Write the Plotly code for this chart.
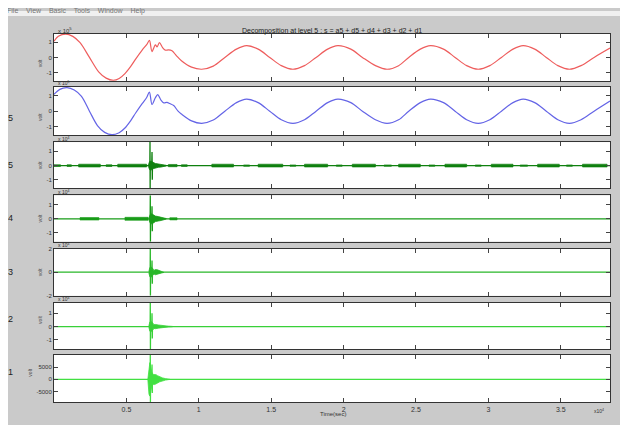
import plotly.graph_objects as go

# page body has an 8px margin, so the figure is sized to fill the rest of the 628x425 window
OFF = 8
FW, FH = 620, 417

# ---------------- data ----------------
x_max = 3.84
x_tickvals = [0.5, 1, 1.5, 2, 2.5, 3, 3.5]
x_ticktext = ["0.5", "1", "1.5", "2", "2.5", "3", "3.5"]

# s : original signal (x 10^5)
s_t = [0.00, 0.03, 0.08, 0.13, 0.18, 0.245, 0.31, 0.36, 0.41, 0.45, 0.49, 0.53, 0.565,
       0.61, 0.640, 0.659, 0.677, 0.700, 0.712, 0.728, 0.750, 0.769, 0.790, 0.815, 0.845,
       0.88, 0.95, 1.02, 1.10, 1.18, 1.26, 1.33, 1.41, 1.49, 1.57, 1.65, 1.73, 1.81, 1.89,
       1.96, 2.05, 2.13, 2.22, 2.30, 2.38, 2.45, 2.53, 2.60, 2.69, 2.77, 2.85, 2.93, 3.01,
       3.09, 3.17, 3.24, 3.32, 3.40, 3.48, 3.56, 3.64, 3.73, 3.84]
s_v = [1.08, 1.40, 1.55, 1.40, 0.98, 0.00, -0.98, -1.38, -1.52, -1.40, -1.08, -0.60, -0.10,
       0.50, 0.85, 1.13, 0.39, 0.83, 0.70, 0.98, 0.65, 0.48, 0.50, 0.44, 0.12,
       -0.22, -0.65, -0.79, -0.58, 0.00, 0.55, 0.78, 0.55, 0.00, -0.55, -0.79, -0.55, 0.00, 0.55,
       0.78, 0.55, 0.00, -0.55, -0.79, -0.55, 0.00, 0.55, 0.78, 0.55, 0.00, -0.55, -0.79, -0.55,
       0.00, 0.55, 0.78, 0.55, 0.00, -0.55, -0.79, -0.55, 0.00, 0.62]

# a5 : approximation at level 5 (x 10^5)
a5_t = [0.00, 0.04, 0.09, 0.14, 0.19, 0.245, 0.30, 0.35, 0.40, 0.45, 0.49, 0.53, 0.565,
        0.61, 0.640, 0.659, 0.677, 0.700, 0.716, 0.740, 0.758, 0.780, 0.800, 0.827, 0.857,
        0.88, 0.95, 1.02, 1.10, 1.18, 1.26, 1.33, 1.41, 1.49, 1.57, 1.65, 1.73, 1.81, 1.89,
        1.96, 2.05, 2.13, 2.22, 2.30, 2.38, 2.45, 2.53, 2.60, 2.69, 2.77, 2.85, 2.93, 3.01,
        3.09, 3.17, 3.24, 3.32, 3.40, 3.48, 3.56, 3.64, 3.73, 3.84]
a5_v = [1.08, 1.40, 1.51, 1.36, 0.95, 0.00, -0.92, -1.36, -1.51, -1.38, -1.08, -0.60, -0.10,
        0.50, 0.88, 1.23, 0.43, 0.86, 1.06, 0.69, 0.53, 0.57, 0.49, 0.36, 0.00,
        -0.18, -0.62, -0.78, -0.57, 0.00, 0.55, 0.78, 0.55, 0.00, -0.55, -0.78, -0.55, 0.00, 0.55,
        0.78, 0.55, 0.00, -0.55, -0.78, -0.55, 0.00, 0.55, 0.78, 0.55, 0.00, -0.55, -0.78, -0.55,
        0.00, 0.55, 0.78, 0.55, 0.00, -0.55, -0.78, -0.55, 0.00, 0.65]

# details: spike samples, burst envelope, and band segments
d5_spike_t = [0.0, 0.662, 0.663, 0.664, 0.665, 0.675, 0.677, 0.679, 0.680, 3.84]
d5_spike_v = [0.0, 0.0, 1.65, -1.60, 0.0, 0.0, 0.95, -1.0, 0.0, 0.0]
d5_env_t = [0.652, 0.660, 0.670, 0.680, 0.690, 0.700, 0.720, 0.740, 0.760, 0.775]
d5_env_a = [0.05, 0.28, 0.32, 0.24, 0.20, 0.15, 0.12, 0.10, 0.07, 0.02]
d5_seg_start = [0.00, 0.09, 0.17, 0.36, 0.44, 0.79, 0.88, 1.09, 1.31, 1.41, 1.63, 1.73, 1.95,
                2.06, 2.28, 2.38, 2.59, 2.70, 2.91, 3.02, 3.22, 3.34, 3.54, 3.65]
d5_seg_end = [0.045, 0.12, 0.32, 0.40, 0.64, 0.85, 0.92, 1.24, 1.35, 1.58, 1.67, 1.89, 1.99,
              2.22, 2.33, 2.53, 2.63, 2.85, 2.95, 3.17, 3.27, 3.49, 3.58, 3.82]
d5_seg_amp = [0.06, 0.06, 0.10, 0.06, 0.10, 0.08, 0.06, 0.10, 0.05, 0.10, 0.05, 0.10, 0.05,
              0.10, 0.05, 0.10, 0.05, 0.10, 0.05, 0.10, 0.05, 0.10, 0.05, 0.10]

d4_spike_t = [0.0, 0.664, 0.665, 0.666, 0.667, 0.675, 0.677, 0.679, 0.680, 3.84]
d4_spike_v = [0.0, 0.0, 1.70, -1.65, 0.0, 0.0, 0.90, -0.90, 0.0, 0.0]
d4_env_t = [0.655, 0.665, 0.675, 0.690, 0.700, 0.720, 0.740, 0.760, 0.775]
d4_env_a = [0.05, 0.32, 0.36, 0.28, 0.20, 0.16, 0.12, 0.08, 0.02]
d4_seg_start = [0.18, 0.49, 0.80]
d4_seg_end = [0.31, 0.65, 0.85]
d4_seg_amp = [0.09, 0.11, 0.08]

d3_spike_t = [0.0, 0.664, 0.665, 0.666, 0.667, 0.675, 0.677, 0.679, 0.680, 3.84]
d3_spike_v = [0.0, 0.0, 2.02, -2.02, 0.0, 0.0, 1.0, -1.0, 0.0, 0.0]
d3_env_t = [0.655, 0.662, 0.670, 0.680, 0.690, 0.700, 0.715, 0.730, 0.745, 0.760]
d3_env_a = [0.05, 0.40, 0.45, 0.35, 0.15, 0.22, 0.20, 0.12, 0.06, 0.02]

d2_spike_t = [0.0, 0.664, 0.665, 0.666, 0.667, 0.675, 0.677, 0.679, 0.680, 3.84]
d2_spike_v = [0.0, 0.0, 1.80, -1.70, 0.0, 0.0, 1.0, -0.9, 0.0, 0.0]
d2_env_t = [0.655, 0.662, 0.670, 0.680, 0.690, 0.700, 0.720, 0.740, 0.760, 0.790, 0.820]
d2_env_a = [0.05, 0.35, 0.38, 0.30, 0.14, 0.16, 0.12, 0.08, 0.05, 0.03, 0.01]

d1_spike_t = [0.0, 0.664, 0.665, 0.666, 0.667, 0.675, 0.677, 0.679, 0.680, 3.84]
d1_spike_v = [0.0, 0.0, 9900, -9300, 0.0, 0.0, 6000, -5500, 0.0, 0.0]
d1_env_t = [0.648, 0.652, 0.656, 0.662, 0.668, 0.675, 0.685, 0.695, 0.705, 0.715, 0.730,
            0.750, 0.770, 0.800]
d1_env_a = [0, 3000, 6000, 6800, 5000, 3000, 2000, 2100, 1900, 1500, 1000, 600, 300, 0]

row_names = ["s", "a5", "d5", "d4", "d3", "d2", "d1"]
exp_labels = ["5", "5", "4", "4", "4", "4", None]
y_tickvals = [[-1, 0, 1], [-1, 0, 1], [-1, 0, 1], [-1, 0, 1], [-2, 0, 2], [-1, 0, 1],
              [-5000, 0, 5000]]
y_ticktext = [["-1", "0", "1"], ["-1", "0", "1"], ["-1", "0", "1"], ["-1", "0", "1"],
              ["-2", "0", "2"], ["-1", "0", "1"], ["-5000", "0", "5000"]]

# ---------------- layout (window pixel positions) ----------------
panel_px = [(31, 79), (85, 134), (141, 188), (195, 242), (249, 297), (304, 351), (357, 405)]
y_ranges = [[-1.57, 1.58], [-1.54, 1.56], [-1.6, 1.65], [-1.65, 1.7], [-2.03, 2.03],
            [-1.7, 1.8], [-9300, 9900]]
X0, X1 = 54, 610
volt_x = [35, 35, 35, 35, 35, 35, 25]

FONT = "Liberation Sans, Arial, sans-serif"
GREY = "#cacaca"


def px_x(p):
    return (p - OFF) / FW


def px_y(p):
    return 1 - (p - OFF) / FH


def ax_names(i):
    return ("x" if i == 0 else f"x{i+1}", "y" if i == 0 else f"y{i+1}")


def band_polys(starts, ends, amps):
    xs, ys = [], []
    for a, b, h in zip(starts, ends, amps):
        xs += [a, b, b, a, a, None]
        ys += [h, h, -h, -h, h, None]
    return xs, ys


fig = go.Figure()

for i, (t, v, col) in enumerate([(s_t, s_v, "#ee5d5d"), (a5_t, a5_v, "#6464e6")]):
    xa, ya = ax_names(i)
    fig.add_trace(go.Scatter(x=t, y=v, mode="lines", xaxis=xa, yaxis=ya,
                             line=dict(color=col, width=1.2, shape="spline", smoothing=0.9),
                             showlegend=False, hoverinfo="skip"))

details = [
    (d5_spike_t, d5_spike_v, d5_env_t, d5_env_a, (d5_seg_start, d5_seg_end, d5_seg_amp), "#0f800f"),
    (d4_spike_t, d4_spike_v, d4_env_t, d4_env_a, (d4_seg_start, d4_seg_end, d4_seg_amp), "#189c18"),
    (d3_spike_t, d3_spike_v, d3_env_t, d3_env_a, None, "#2ab82a"),
    (d2_spike_t, d2_spike_v, d2_env_t, d2_env_a, None, "#38d038"),
    (d1_spike_t, d1_spike_v, d1_env_t, d1_env_a, None, "#42e042"),
]
for k, (st, sv, et, ea, segs, col) in enumerate(details):
    i = k + 2
    xa, ya = ax_names(i)
    if segs is not None:
        bx, by = band_polys(*segs)
        fig.add_trace(go.Scatter(x=bx, y=by, mode="lines", fill="toself", fillcolor=col,
                                 line=dict(color=col, width=0.6), xaxis=xa, yaxis=ya,
                                 showlegend=False, hoverinfo="skip"))
    ex = list(et) + list(et[::-1])
    ey = list(ea) + [-a for a in ea[::-1]]
    fig.add_trace(go.Scatter(x=ex, y=ey, mode="lines", fill="toself", fillcolor=col,
                             line=dict(color=col, width=0.8), xaxis=xa, yaxis=ya,
                             showlegend=False, hoverinfo="skip"))
    fig.add_trace(go.Scatter(x=st, y=sv, mode="lines", xaxis=xa, yaxis=ya,
                             line=dict(color=col, width=1.3),
                             showlegend=False, hoverinfo="skip"))

layout = dict(
    width=FW, height=FH, margin=dict(l=0, r=0, t=0, b=0),
    paper_bgcolor=GREY, plot_bgcolor="white", showlegend=False,
    font=dict(family=FONT, size=7, color="#333"),
)

annotations = []
for i, ((top, bot), yr) in enumerate(zip(panel_px, y_ranges)):
    xa, ya = ax_names(i)
    xkey = "xaxis" if i == 0 else f"xaxis{i+1}"
    ykey = "yaxis" if i == 0 else f"yaxis{i+1}"
    layout[xkey] = dict(domain=[px_x(X0), px_x(X1)], range=[0, x_max], anchor=ya,
                        tickvals=x_tickvals, ticktext=x_ticktext,
                        showticklabels=(i == 6), ticks="inside", ticklen=4, tickwidth=1,
                        tickcolor="#444", mirror="allticks", showline=True, linecolor="#333",
                        linewidth=1, showgrid=False, zeroline=False,
                        tickfont=dict(size=7, color="#333"))
    layout[ykey] = dict(domain=[px_y(bot), px_y(top)], range=yr, anchor=xa,
                        tickvals=y_tickvals[i], ticktext=y_ticktext[i],
                        ticks="inside", ticklen=4, tickwidth=1, tickcolor="#444",
                        mirror="allticks", showline=True, linecolor="#333", linewidth=1,
                        showgrid=False, zeroline=False, tickfont=dict(size=6, color="#333"))
    cy = px_y((top + bot) / 2)
    annotations.append(dict(x=px_x(volt_x[i]), y=cy, xref="paper", yref="paper", text="volt",
                            textangle=-90, showarrow=False, font=dict(size=5, color="#444")))
    # row label: left-aligned so its first letter falls outside the visible window
    annotations.append(dict(x=px_x(1), y=cy, xref="paper", yref="paper", xanchor="left",
                            text=row_names[i], showarrow=False,
                            font=dict(size=9, color="#222")))
    if exp_labels[i] is not None:
        annotations.append(dict(x=px_x(56), y=px_y(top - 3.5), xref="paper", yref="paper",
                                xanchor="left", yanchor="middle",
                                text="x 10<sup>" + exp_labels[i] + "</sup>", showarrow=False,
                                font=dict(size=5 if i > 0 else 6, color="#333")))

annotations += [
    dict(x=px_x(332), y=px_y(22), xref="paper", yref="paper", showarrow=False,
         text="Decomposition at level 5 : s = a5 + d5 + d4 + d3 + d2 + d1",
         font=dict(size=7, color="#222")),
    dict(x=px_x(333), y=px_y(421.5), xref="paper", yref="paper", showarrow=False,
         text="Time(sec)", font=dict(size=6, color="#333")),
    dict(x=px_x(606), y=px_y(419), xref="paper", yref="paper", showarrow=False,
         text="x10<sup>4</sup>", font=dict(size=5, color="#333")),
    dict(x=px_x(5), y=px_y(8.5), xref="paper", yref="paper", xanchor="left", yanchor="middle",
         showarrow=False, text="File    View    Basic    Tools    Window    Help",
         font=dict(size=7, color="#777")),
]
layout["annotations"] = annotations
layout["shapes"] = [
    dict(type="rect", xref="paper", yref="paper", x0=0, x1=1, y0=px_y(13), y1=1,
         fillcolor="#f0f0f0", line=dict(width=0), layer="below"),
    dict(type="rect", xref="paper", yref="paper", x0=px_x(622), x1=1, y0=0, y1=px_y(13),
         fillcolor="#e2e2e2", line=dict(width=0), layer="below"),
]

fig.update_layout(**layout)
fig.write_html("out.html")
